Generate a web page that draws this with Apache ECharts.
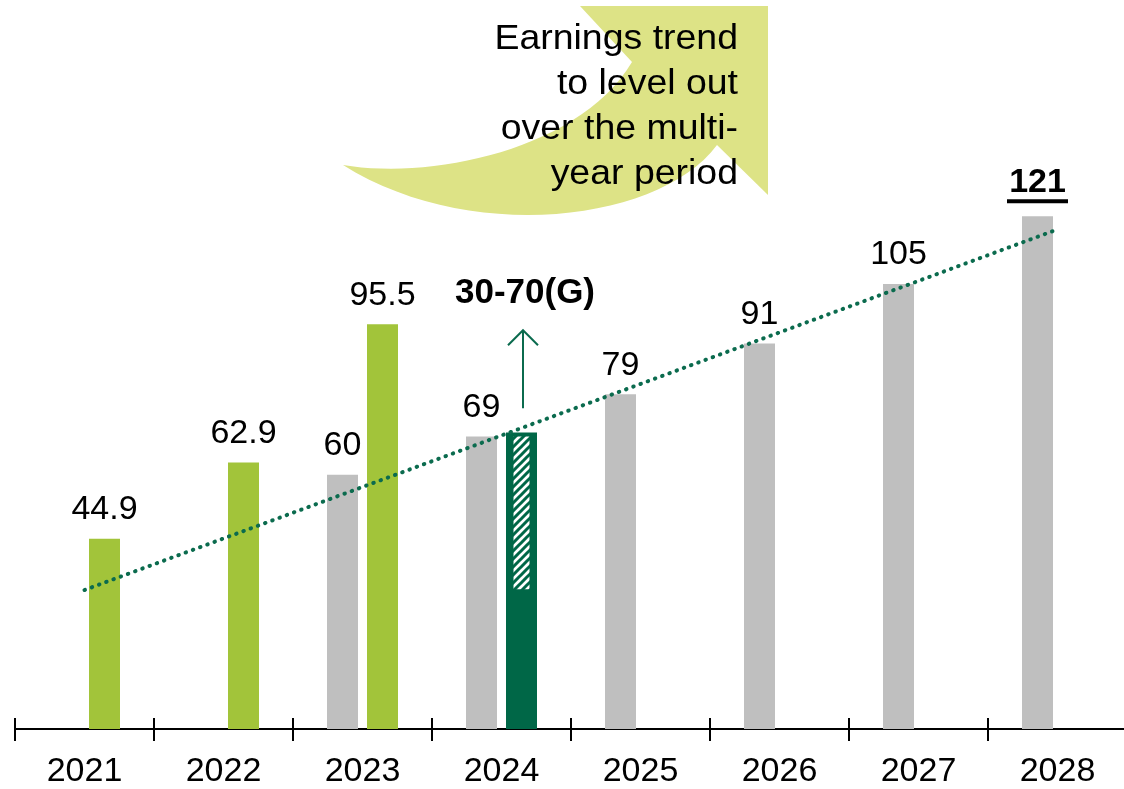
<!DOCTYPE html>
<html>
<head>
<meta charset="utf-8">
<script src="https://cdn.jsdelivr.net/npm/echarts@6/dist/echarts.min.js"></script>
<style>
	html, body { margin: 0; padding: 0; background: #fff; }
	#chart { width: 1124px; height: 789px; }
</style>
</head>
<body>
<div id="chart"></div>
<script>
var years = ['2021', '2022', '2023', '2024', '2025', '2026', '2027', '2028']
var planValues = [null, null, 60, 69, 79, 91, 105, 121]		// 灰色柱
var actualValues = [44.9, 62.9, 95.5, 70, null, null, null, null]	// 绿色柱
var guidanceIndex = 3				// 2024
var guidanceRange = [33, 69]		// 斜线区间
var guidanceArrow = [75.7, 94.1]	// 箭头 起-止
var guidanceLabelValue = 102.8
var guidanceLabel = '30-70(G)'
var highlightIndex = 7				// 121 加粗下划线
var trendPoints = [[0, 32.8], [7, 117.9]]
var calloutLines = ['Earnings trend', 'to level out', 'over the multi-', 'year period']

var color = {
	green: '#a2c43a',
	dark: '#006747',
	gray: '#bfbfbf',
	trend: '#0b6b4e',
	callout: '#dde386'
}
var font = '"Liberation Sans", Arial, sans-serif'
var barWidth = 31
var barGapPx = 9

// 斜线填充
function hatchPattern() {
	var c = document.createElement('canvas')
	c.width = 8
	c.height = 8
	var ctx = c.getContext('2d')
	ctx.fillStyle = '#fff'
	ctx.fillRect(0, 0, 8, 8)
	ctx.strokeStyle = color.dark
	ctx.lineWidth = 3
	ctx.beginPath()
	ctx.moveTo(-2, 10); ctx.lineTo(10, -2)
	ctx.moveTo(-6, 6); ctx.lineTo(6, -6)
	ctx.moveTo(2, 14); ctx.lineTo(14, 2)
	ctx.stroke()
	return c
}
var pattern = hatchPattern()

// 三次贝塞尔取点
function bezier(p0, p1, p2, p3, n) {
	var pts = []
	for (var i = 0; i <= n; i++) {
		var t = i / n, u = 1 - t
		pts.push([
			u*u*u*p0[0] + 3*u*u*t*p1[0] + 3*u*t*t*p2[0] + t*t*t*p3[0],
			u*u*u*p0[1] + 3*u*u*t*p1[1] + 3*u*t*t*p2[1] + t*t*t*p3[1]
		])
	}
	return pts
}
var calloutShape = bezier([343, 165], [430, 180], [580, 150], [632, 62], 30)
	.concat([[580, 6], [768, 6], [768, 195], [717, 145]])
	.concat(bezier([717, 145], [660, 222], [470, 245], [343, 165], 30))

var actualData = actualValues.map(function(v, i) {
	if (i === guidanceIndex) {
		return { value: v, itemStyle: { color: color.dark }, label: { show: false } }
	}
	return v
})

var graphics = [{
	type: 'polygon',
	z: 0,
	shape: { points: calloutShape },
	style: { fill: color.callout }
}]
calloutLines.forEach(function(t, i) {
	graphics.push({
		type: 'text',
		z: 1,
		x: 738,
		y: 39 + i * 45,
		scaleX: 1.07,
		style: {
			text: t,
			fill: '#000',
			font: '35px ' + font,
			textAlign: 'right',
			textVerticalAlign: 'middle'
		}
	})
})

var option = {
	animation: false,
	backgroundColor: '#fff',
	grid: { left: 15, width: 1112, top: 51, bottom: 60, outerBoundsMode: 'none', containLabel: false },
	xAxis: [{
		type: 'category',
		data: years,
		position: 'bottom',
		axisLine: { lineStyle: { color: '#000', width: 2 } },
		axisTick: { show: true, length: 12, lineStyle: { color: '#000', width: 2 } },
		axisLabel: { margin: 26, color: '#000', fontSize: 34, fontFamily: font }
	}, {
		type: 'category',
		data: years,
		position: 'bottom',
		axisLine: { show: false },
		axisTick: { show: true, inside: true, length: 11, lineStyle: { color: '#000', width: 2 } },
		axisLabel: { show: false }
	}],
	yAxis: {
		type: 'value',
		min: 0,
		max: 160,
		show: false,
		splitLine: { show: false }
	},
	graphic: graphics,
	series: [{
		name: 'plan',
		type: 'bar',
		data: planValues,
		barWidth: barWidth,
		barGap: (barGapPx / barWidth * 100) + '%',
		itemStyle: { color: color.gray },
		label: {
			show: true,
			position: 'top',
			distance: 12,
			color: '#000',
			fontSize: 34,
			fontFamily: font,
			formatter: function(p) {
				if (p.dataIndex === highlightIndex) return '{b|' + p.value + '}\n{u|}'
				return p.value
			},
			rich: {
				b: { fontSize: 34, fontWeight: 'bold', fontFamily: font, color: '#000', lineHeight: 31 },
				u: { width: 61, height: 4, backgroundColor: '#000', lineHeight: 6 }
			}
		}
	}, {
		name: 'actual',
		type: 'bar',
		data: actualData,
		barWidth: barWidth,
		itemStyle: { color: color.green },
		label: {
			show: true,
			position: 'top',
			distance: 12,
			color: '#000',
			fontSize: 34,
			fontFamily: font
		}
	}, {
		name: 'guidance',
		type: 'custom',
		z: 4,
		data: [[guidanceIndex, guidanceRange[0], guidanceRange[1]]],
		renderItem: function(params, api) {
			var idx = api.value(0)
			var off = (barWidth + barGapPx) / 2
			var lo = api.coord([idx, api.value(1)])
			var hi = api.coord([idx, api.value(2)])
			var cx = lo[0] + off
			var a0 = api.coord([idx, guidanceArrow[0]])
			var a1 = api.coord([idx, guidanceArrow[1]])
			var lp = api.coord([idx, guidanceLabelValue])
			var ax = cx + 1.5
			return {
				type: 'group',
				children: [{
					type: 'rect',
					shape: { x: cx - 8, y: hi[1], width: 16, height: lo[1] - hi[1] },
					style: { fill: { image: pattern, repeat: 'repeat' } }
				}, {
					type: 'line',
					shape: { x1: ax, y1: a0[1], x2: ax, y2: a1[1] },
					style: { stroke: color.trend, lineWidth: 2 }
				}, {
					type: 'polyline',
					shape: { points: [[ax - 15, a1[1] + 15], [ax, a1[1]], [ax + 15, a1[1] + 15]] },
					style: { stroke: color.trend, lineWidth: 2, fill: null }
				}, {
					type: 'text',
					x: ax + 2,
					y: lp[1],
					style: {
						text: guidanceLabel,
						fill: '#000',
						font: 'bold 35px ' + font,
						textAlign: 'center',
						textVerticalAlign: 'middle'
					}
				}]
			}
		}
	}, {
		name: 'trend',
		type: 'line',
		z: 5,
		data: trendPoints,
		symbol: 'none',
		silent: true,
		lineStyle: { color: color.trend, width: 4, type: [0.5, 7.2], cap: 'round' }
	}]
}

var chart = echarts.init(document.getElementById('chart'))
chart.setOption(option)
</script>
</body>
</html>
